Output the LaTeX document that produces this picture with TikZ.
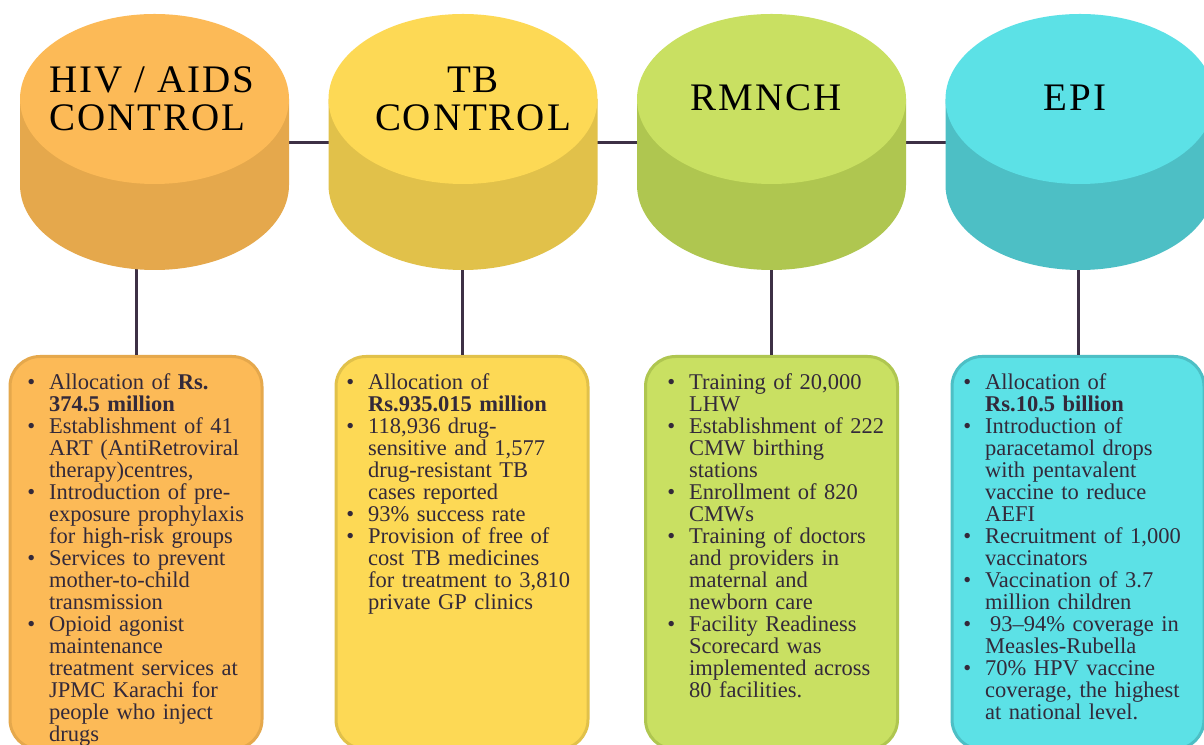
\documentclass[tikz,border=0pt]{standalone}
\usepackage{fontspec}
\setmainfont{Liberation Serif}
\definecolor{orTop}{HTML}{FCBA57}
\definecolor{orSide}{HTML}{E5A84C}
\definecolor{yeTop}{HTML}{FDD955}
\definecolor{yeSide}{HTML}{E1C14A}
\definecolor{grTop}{HTML}{C9E062}
\definecolor{grSide}{HTML}{AFC650}
\definecolor{cyTop}{HTML}{5CE1E6}
\definecolor{cySide}{HTML}{4DBFC5}
\definecolor{lineCol}{HTML}{3D3045}
\definecolor{txtCol}{HTML}{33293A}
\newcommand\bul{\makebox[0pt][r]{\textbullet\hspace{14pt}}}
\newcommand\mycyl[3]{%
  \fill[#3] (#1-134.5,645) -- (#1-134.5,559)
    arc[start angle=180,end angle=360,x radius=134.5,y radius=85]
    -- (#1+134.5,645) -- cycle;
  \fill[#2] (#1,645) ellipse[x radius=134.5,y radius=85];
}
\tikzset{
  infobox/.style={rectangle, rounded corners=30pt, line width=3pt,
    minimum width=252pt, minimum height=393pt, anchor=north, inner sep=0pt},
  conn/.style={draw=lineCol, line width=3pt},
  bodytext/.style={anchor=base west, align=left, text width=240pt, inner sep=0pt,
    text=txtCol, font=\fontsize{22.5}{22.0}\selectfont},
  titletext/.style={inner sep=0pt, text=black,
    font=\fontsize{39}{38}\selectfont\addfontfeature{LetterSpace=5}}
}
\begin{document}
\begin{tikzpicture}[x=1pt,y=1pt]
\useasboundingbox (0,0) rectangle (1204,744);
\fill[white] (0,0) rectangle (1204,744);

% boxes
\node[infobox, fill=orTop, draw=orSide] (b1) at (136,389) {};
\node[infobox, fill=yeTop, draw=yeSide] (b2) at (462,389) {};
\node[infobox, fill=grTop, draw=grSide] (b3) at (771.5,389) {};
\node[infobox, fill=cyTop, draw=cySide] (b4) at (1078,389) {};

% hidden connector ends inside cylinders
\coordinate (c1) at (154.5,601);
\coordinate (c2) at (463,601);
\coordinate (c3) at (771.5,601);
\coordinate (c4) at (1080,601);
\coordinate (v1) at (136,520);
\coordinate (v2) at (462,520);
\coordinate (v3) at (771.5,520);
\coordinate (v4) at (1078,520);

\draw[conn] (c1) -- (c2) -- (c3) -- (c4);
\draw[conn] (v1) -- (b1.north);
\draw[conn] (v2) -- (b2.north);
\draw[conn] (v3) -- (b3.north);
\draw[conn] (v4) -- (b4.north);

% cylinders
\mycyl{154.5}{orTop}{orSide}
\mycyl{463}{yeTop}{yeSide}
\mycyl{771.5}{grTop}{grSide}
\mycyl{1080}{cyTop}{cySide}

% titles
\node[titletext, align=left] (t1) at (152,645) {HIV / AIDS\\CONTROL};
\node[titletext, align=center] (t2) at (473,645) {TB\\CONTROL};
\node[titletext] (t3) at (766,646) {RMNCH};
\node[titletext] (t4) at (1075,646) {EPI};

% body texts
\node[bodytext] (x1) at (49,354) {%
\bul Allocation of \textbf{Rs.}\\
\textbf{374.5 million}\\
\bul Establishment of 41\\
ART (AntiRetroviral\\
therapy)centres,\\
\bul Introduction of pre-\\
exposure prophylaxis\\
for high-risk groups\\
\bul Services to prevent\\
mother-to-child\\
transmission\\
\bul Opioid agonist\\
maintenance\\
treatment services at\\
JPMC Karachi for\\
people who inject\\
drugs};

\node[bodytext] (x2) at (368,354) {%
\bul Allocation of\\
\textbf{Rs.935.015 million}\\
\bul 118,936 drug-\\
sensitive and 1,577\\
drug-resistant TB\\
cases reported\\
\bul 93\% success rate\\
\bul Provision of free of\\
cost TB medicines\\
for treatment to 3,810\\
private GP clinics};

\node[bodytext] (x3) at (689,354) {%
\bul Training of 20,000\\
LHW\\
\bul Establishment of 222\\
CMW birthing\\
stations\\
\bul Enrollment of 820\\
CMWs\\
\bul Training of doctors\\
and providers in\\
maternal and\\
newborn care\\
\bul Facility Readiness\\
Scorecard was\\
implemented across\\
80 facilities.};

\node[bodytext] (x4) at (985,354) {%
\bul Allocation of\\
\textbf{Rs.10.5 billion}\\
\bul Introduction of\\
paracetamol drops\\
with pentavalent\\
vaccine to reduce\\
AEFI\\
\bul Recruitment of 1,000\\
vaccinators\\
\bul Vaccination of 3.7\\
million children\\
\bul\hspace{5pt}93–94\% coverage in\\
Measles-Rubella\\
\bul 70\% HPV vaccine\\
coverage, the highest\\
at national level.};
\end{tikzpicture}
\end{document}
